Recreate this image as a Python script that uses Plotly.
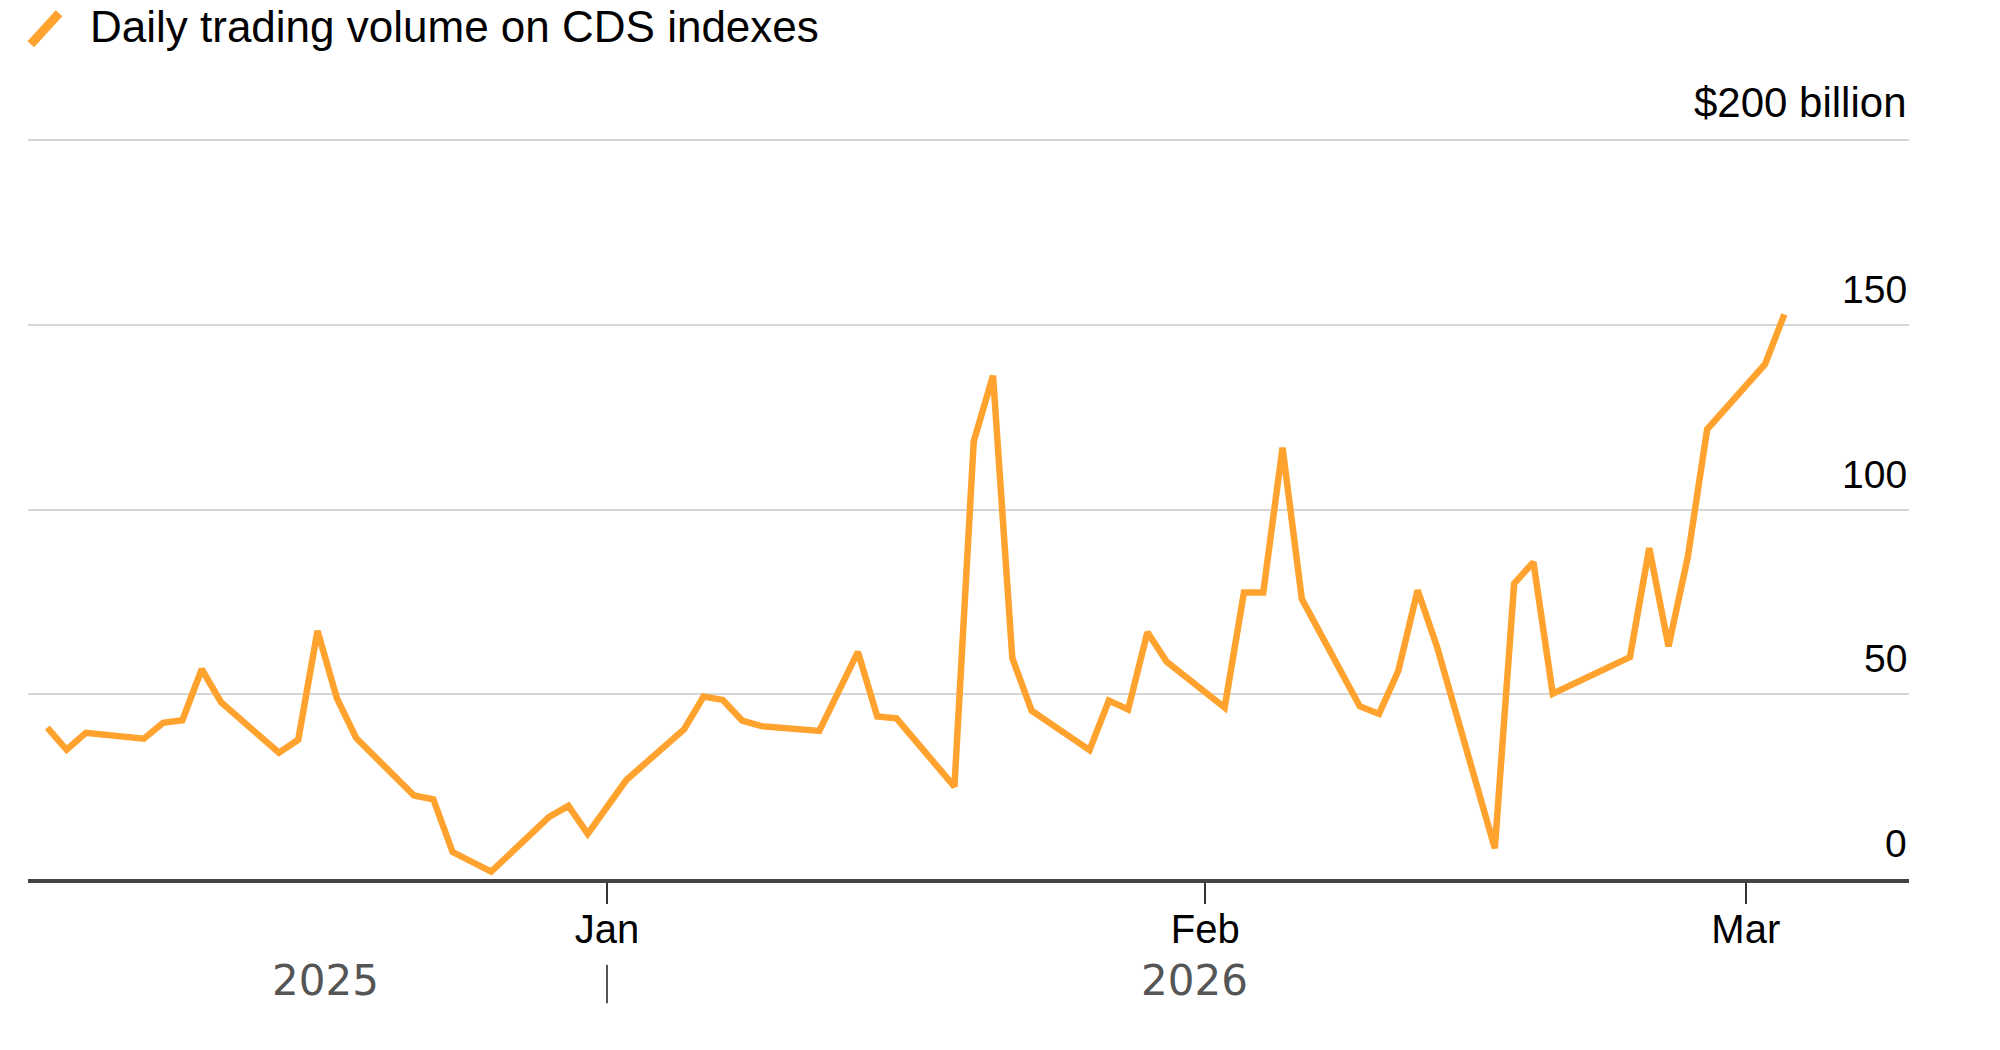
import plotly.graph_objects as go

dates = [
    "2025-12-03", "2025-12-04", "2025-12-05", "2025-12-08", "2025-12-09", "2025-12-10",
    "2025-12-11", "2025-12-12", "2025-12-15", "2025-12-16", "2025-12-17", "2025-12-18",
    "2025-12-19", "2025-12-22", "2025-12-23", "2025-12-24", "2025-12-26", "2025-12-29",
    "2025-12-30", "2025-12-31", "2026-01-02", "2026-01-05", "2026-01-06", "2026-01-07",
    "2026-01-08", "2026-01-09", "2026-01-12", "2026-01-14", "2026-01-15", "2026-01-16",
    "2026-01-19", "2026-01-20", "2026-01-21", "2026-01-22", "2026-01-23", "2026-01-26",
    "2026-01-27", "2026-01-28", "2026-01-29", "2026-01-30", "2026-02-02", "2026-02-03",
    "2026-02-04", "2026-02-05", "2026-02-06", "2026-02-09", "2026-02-10", "2026-02-11",
    "2026-02-12", "2026-02-13", "2026-02-16", "2026-02-17", "2026-02-18", "2026-02-19",
    "2026-02-23", "2026-02-24", "2026-02-25", "2026-02-26", "2026-02-27", "2026-03-02",
    "2026-03-03",
]
volume_bn = [
    41.0, 35.0, 39.6, 38.0, 42.3, 43.0,
    56.8, 47.9, 34.2, 37.7, 67.2, 49.0,
    38.2, 22.6, 21.6, 7.3, 2.0, 16.8,
    19.8, 12.2, 26.8, 40.6, 49.4, 48.5,
    42.9, 41.4, 40.1, 61.5, 44.0, 43.5,
    25.0, 118.5, 136.3, 59.8, 45.6, 34.9,
    48.3, 45.9, 66.8, 58.8, 46.4, 77.6,
    77.6, 116.8, 75.8, 46.8, 44.7, 56.4,
    78.2, 63.0, 8.3, 80.0, 85.8, 50.2,
    60.1, 89.6, 63.0, 87.3, 121.8, 139.4,
    152.9,
]

x_tick_vals = ["2026-01-01", "2026-02-01", "2026-03-01"]
x_tick_text = ["Jan", "Feb", "Mar"]
y_tick_vals = [0, 50, 100, 150, 200]
y_tick_text = ["0", "50", "100", "150", "$200 billion"]
year_labels = ["2025", "2026"]
year_label_pos = ["2025-12-17 10:00", "2026-01-31 10:00"]
year_divider = "2026-01-01"
title = "Daily trading volume on CDS indexes"

ORANGE = "#FFA22E"
FONT = "Liberation Sans, Arial, sans-serif"

fig = go.Figure()
fig.add_trace(go.Scatter(
    x=dates, y=volume_bn, mode="lines",
    line=dict(color=ORANGE, width=6.5, shape="linear"),
    hoverinfo="skip", showlegend=False,
))

# y labels sit above their gridlines, right-aligned at the right edge
annotations = []
for v, t in zip(y_tick_vals, y_tick_text):
    annotations.append(dict(
        x=1, xref="paper", y=v, yref="y", text=t, showarrow=False,
        xanchor="right", yanchor="bottom", yshift=12,
        font=dict(family=FONT, size=42 if v == 200 else 39, color="#000000"),
    ))
# year labels
for lbl, pos in zip(year_labels, year_label_pos):
    annotations.append(dict(
        x=pos, xref="x", y=-0.137, yref="paper", text=lbl, showarrow=False,
        xanchor="center", yanchor="middle",
        font=dict(family="DejaVu Sans, sans-serif", size=42, color="#555555"),
    ))
# title
annotations.append(dict(
    x=0.0324, xref="paper", y=1.187, yref="paper", text=title, showarrow=False,
    xanchor="left", yanchor="top", borderpad=0,
    font=dict(family=FONT, size=44, color="#000000"),
))

shapes = [
    # year divider
    dict(type="line", xref="x", yref="paper", x0=year_divider, x1=year_divider,
         y0=-0.116, y1=-0.168, line=dict(color="#555555", width=2)),
    # legend slash icon
    dict(type="line", xref="paper", yref="paper", x0=0.0015, y0=1.128,
         x1=0.0165, y1=1.170, line=dict(color=ORANGE, width=9)),
]

fig.update_layout(
    width=2000, height=1050,
    margin=dict(l=28, r=91, t=139, b=171),
    paper_bgcolor="white", plot_bgcolor="white",
    showlegend=False,
    annotations=annotations,
    shapes=shapes,
    xaxis=dict(
        type="date",
        range=["2025-12-02", "2026-03-09 11:00"],
        tickvals=x_tick_vals, ticktext=x_tick_text,
        ticks="outside", ticklen=21, tickwidth=2, tickcolor="#333333",
        ticklabelstandoff=-9,
        showline=True, linecolor="#444444", linewidth=4,
        showgrid=False, zeroline=False,
        tickfont=dict(family=FONT, size=40, color="#000000"),
    ),
    yaxis=dict(
        range=[0, 200.4],
        tickvals=y_tick_vals,
        showticklabels=False,
        showgrid=True, gridcolor="#d6d6d6", gridwidth=2,
        zeroline=False, showline=False, ticks="",
    ),
)

fig.write_html("out.html", config={"displayModeBar": False},
               post_script="document.body.style.margin='0';")
